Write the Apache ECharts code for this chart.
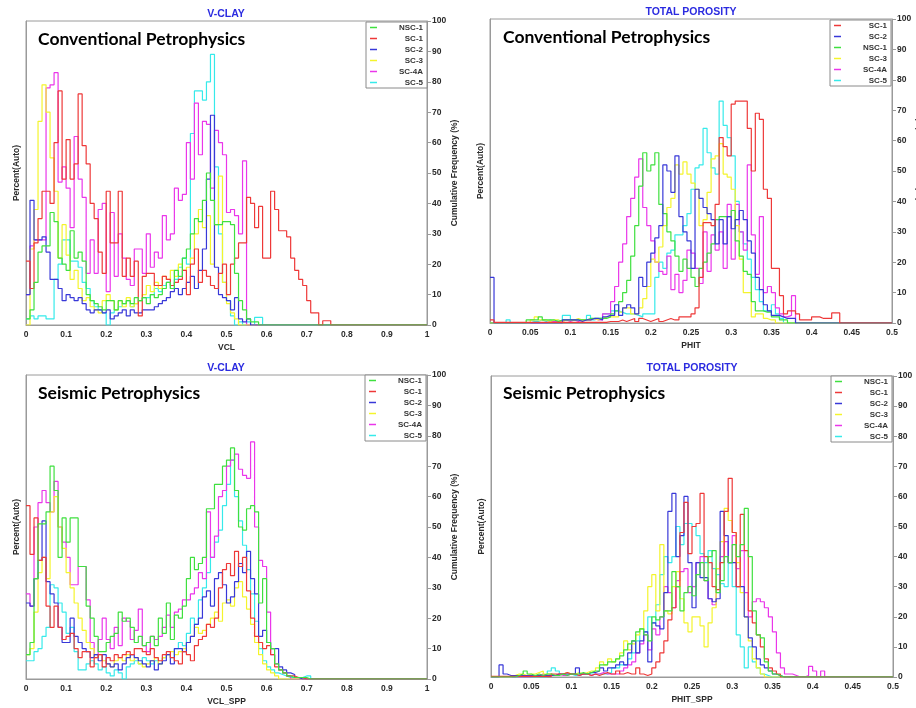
<!DOCTYPE html>
<html><head><meta charset="utf-8">
<script src="https://cdn.jsdelivr.net/npm/echarts@6.0.0/dist/echarts.min.js"></script>
<style>html,body{margin:0;padding:0;background:#fff}#c{width:916px;height:708px}</style>
</head><body><div id="c"></div>
<script>
// ---------- DATA (histogram bin heights, read on the 0-100 right-axis scale) ----------
const WELLS = ['NSC-1','SC-1','SC-2','SC-3','SC-4A','SC-5'];
const LEGEND_ORDER_A = ['NSC-1','SC-1','SC-2','SC-3','SC-4A','SC-5'];
const LEGEND_ORDER_B = ['SC-1','SC-2','NSC-1','SC-3','SC-4A','SC-5'];
const VCL_BIN = 0.01;   // VCL histograms: 100 bins over 0..1
const PHIT_BIN = 0.005; // PHIT histograms: 100 bins over 0..0.5

// Panel 1: V-CLAY, Conventional Petrophysics (VCL)
const convVclNSC1 = [
2,5,14,24,26,26,37,34,22,20,
18,31,22,24,21,10,8,7,6,5,
8,8,5,8,7,8,7,9,8,9,
7,10,9,10,12,14,12,18,16,22,
25,30,35,34,41,50,41,33,33,34,
34,33,17,8,5,2,1,1,0,0,
0,0,0,0,0,0,0,0,0,0,
0,0,0,0,0,0,0,0,0,0,
0,0,0,0,0,0,0,0,0,0,
0,0,0,0,0,0,0,0,0,0];
const convVclSC1 = [
21,12,27,35,44,44,40,60,77,48,
61,48,53,76,59,53,40,35,24,17,
44,27,27,44,16,22,16,21,3,16,
17,17,13,13,16,15,13,14,15,18,
10,20,25,14,18,16,13,12,17,20,
10,20,22,27,27,42,40,32,39,22,
22,44,38,31,31,29,22,18,15,13,
8,4,4,0,1.4,1.4,0,0,0,0,
0,0,0,0,0,0,0,0,0,0,
0,0,0,0,0,0,0,0,0,0];
const convVclSC2 = [
10,41,28,28,29,24,15,15,12,8,
10,9,8,9,7,5,4,5,5,4,
5,2,3,4,5,3,5,4,4,5,
5,5,6,7,8,9,11,12,10,12,
14,16,12,18,25,48,69,19,10,9,
8,5,9,2,1,2,0,0,0,0,
0,0,0,0,0,0,0,0,0,0,
0,0,0,0,0,0,0,0,0,0,
0,0,0,0,0,0,0,0,0,0,
0,0,0,0,0,0,0,0,0,0];
const convVclSC3 = [
0,25,38,67,79,70,55,44,22,33,
23,15,18,12,8,9,6,5,4,8,
10,8,5,8,6,9,6,7,8,10,
13,11,14,12,16,15,18,16,20,18,
19,22,30,38,32,36,20,33,49,14,
7,4,2,0,0,0,0,0,0,0,
0,0,0,0,0,0,0,0,0,0,
0,0,0,0,0,0,0,0,0,0,
0,0,0,0,0,0,0,0,0,0,
0,0,0,0,0,0,0,0,0,0];
const convVclSC4A = [
10,26,28,28,28,78,79,83,47,52,
45,32,62,48,42,17,28,17,38,40,
11,37,16,30,22,15,13,25,25,17,
30,19,24,22,36,28,30,45,41,43,
60,48,73,56,67,66,45,64,60,56,
37,38,36,30,54,0,0,0,0,0,
0,0,0,0,0,0,0,0,0,0,
0,0,0,0,0,0,0,0,0,0,
0,0,0,0,0,0,0,0,0,0,
0,0,0,0,0,0,0,0,0,0];
const convVclSC5 = [
2,3,2,3,3,2,2,15,20,28,
28,21,21,19,14,12,8,6,5,4,
0,4,5,6,7,8,6,7,8,9,
9,10,12,11,13,14,12,15,19,22,
20,63,77,77,74,80,89,52,30,14,
8,3,0,1,0,1,0,2.5,2.5,0,
0,0,0,0,0,0,0,0,0,0,
0,0,0,0,0,0,0,0,0,0,
0,0,0,0,0,0,0,0,0,0,
0,0,0,0,0,0,0,0,0,0];

// Panel 2: TOTAL POROSITY, Conventional Petrophysics (PHIT)
const convPhitSC1 = [
1,0.2,0.2,0.2,0.2,0.2,0.2,0.2,0.2,0.2,
0.2,0.2,0.2,0.2,0.2,0.2,0.2,0.2,0.2,0.2,
0.2,0.2,0.2,0.2,0.2,0.2,0.2,0.2,0.2,0.5,
0.5,0.5,1,0.5,1,1.5,0.5,1.5,1,0.5,
1,1.5,0.5,1,1.5,1,1,2,2,2,
3,5,15,33,33,32,39,61,58,55,
72,73,73,73,64,50,69,67,44,41,
18,18,9,3,4,4,3,1,1,1,
2,2,1.5,1.5,1.5,3.3,3.3,0,0,0,
0,0,0,0,0,0,0,0,0,0];
const convPhitSC2 = [
15,0,0,0,0,0,0,0,0,0,
0,0,0,0,0,0,0,0,1,1,
1,1,0.5,1,1,1.5,1.5,1,2,2.5,
2.5,6,2.5,5,6,5,3,15,12,20,
23,28,32,52,50,43,55,35,30,27,
18,44,41,38,36,34,26,34,26,35,
31,34,37,34,27,23,15,11,6,4,
2.5,2.5,2,1.5,1.5,1.5,0,0,0,0,
0,0,0,0,0,0,0,0,0,0,
0,0,0,0,0,0,0,0,0,0];
const convPhitNSC1 = [
0,0,0,0,0,0,0,0,0,1,
1,1,2,1,1,1,0.5,1,1,1,
1,1,1,1,1.5,1.5,1.5,1.5,1.5,2,
3,4,7,10,14,22,32,45,56,50,
52,56,39,36,30,27,22,17,21,18,
15,12,18,20,23,26,34,35,35,35,
37,27,22,17,16,7,4,4,3.6,3.6,
2,2,1,1,0,0,0,0,0,0,
0,0,0,0,0,0,0,0,0,0,
0,0,0,0,0,0,0,0,0,0];
const convPhitSC3 = [
0,0,0,0,0,0,0,0,0,0,
1,2,1,1,0.5,1,1,0.5,1,1,
1,1.5,1,1,1,1.5,1,1.5,2,2,
2,2,3.6,5,5,3,3,5,8,12,
21,20,25,32,38,41,52,49,53,49,
46,44,32,34,43,54,55,59,49,48,
44,32,21,10,10,2,3,3,1.5,1,
1,0,0,0,0,0,0,0,0,0,
0,0,0,0,0,0,0,0,0,0,
0,0,0,0,0,0,0,0,0,0];
const convPhitSC4A = [
0,0,0,0,0,0,0,0,0,0,
0,0,0,0,0.5,0.5,0.5,0.5,1,0.5,
1,0.5,1,1,1,1.5,1,1,3,3,
7,12,20,26,35,41,48,54,38,32,
27,20,17,16,22,11,16,10,14,24,
23,18,13,30,17,29,24,30,18,39,
21,39,30,24,52,29,16,35,10,12,
10,5,3,2,2.5,9,0,0,0,0,
0,0,0,0,0,0,0,0,0,0,
0,0,0,0,0,0,0,0,0,0];
const convPhitSC5 = [
0,0,0,0,1,0,0,0,0,0,
0.5,0.5,1,0.5,1,0.5,1,0.5,2.5,2.5,
1,1,1,1,2.5,1,1.5,1.5,3,3,
4,4,3.5,3,3,3,2.5,2,3,3,
3,15,20,18,23,24,29,29,32,36,
44,51,52,64,56,51,49,73,65,61,
55,40,30,26,21,15,11,7,4,4,
6,3,1.5,0,0,0,0,0,0,0,
0,0,0,0,0,0,0,0,0,0,
0,0,0,0,0,0,0,0,0,0];

// Panel 3: V-CLAY, Seismic Petrophysics (VCL_SPP)
const sppVclNSC1 = [
8,12,33,51,51,55,70,62,40,53,
45,53,53,37,37,24,20,14,9,9,
12,14,15,22,19,20,17,12,14,11,
12,14,11,20,15,25,13,21,20,24,
33,40,36,38,40,56,56,64,64,70,
72,76,62,50,49,56,57,55,25,33,
12,10,5,3,2,1,0.5,0.5,0.5,0.5,
0,0,0,0,0,0,0,0,0,0,
0,0,0,0,0,0,0,0,0,0,
0,0,0,0,0,0,0,0,0,0];
const sppVclSC1 = [
57,41,53,39,40,24,17,24,17,13,
14,15,10,7,9,9,4,7,8,4,
7,6,8,7,8,9,8,10,10,9,
8,10,7,6,8,9,7,6,5,9,
8,6,11,13,14,18,17,20,30,36,
38,34,42,37,40,29,20,14,12,10,
11,8,4,3,2,1,1,0.5,0.5,0,
0,0,0,0,0,0,0,0,0,0,
0,0,0,0,0,0,0,0,0,0,
0,0,0,0,0,0,0,0,0,0];
const sppVclSC2 = [
25,24,33,39,52,32,28,25,17,12,
12,20,14,12,10,9,7,8,6,8,
5,4,5,3,5,7,8,7,6,5,
4,6,3,5,6,8,5,10,10,9,
12,14,18,20,27,29,24,33,35,31,
25,27,32,38,35,42,33,28,14,16,
12,10,10,4,3,2,1.5,0.5,0,0,
0,0,0,0,0,0,0,0,0,0,
0,0,0,0,0,0,0,0,0,0,
0,0,0,0,0,0,0,0,0,0];
const sppVclSC3 = [
8,10,22,35,40,33,55,60,50,43,
35,30,25,20,16,12,10,7,8,6,
5,4,6,7,6,8,6,7,5,4,
5,6,7,5,7,8,9,8,9,10,
12,14,17,15,16,18,20,22,19,25,
26,24,30,32,27,23,18,12,8,5,
3,2,1,0,0,0,0,0,0,0,
0,0,0,0,0,0,0,0,0,0,
0,0,0,0,0,0,0,0,0,0,
0,0,0,0,0,0,0,0,0,0];
const sppVclSC4A = [
28,24,50,58,62,58,55,65,50,45,
40,31,31,37,37,26,12,8,13,20,
13,10,17,11,20,19,13,16,23,11,
9,14,13,14,17,21,17,22,23,26,
26,28,30,35,33,55,40,47,60,62,
70,72,74,69,67,66,78,50,39,37,
22,8,5,3,2,1,0,0,0,0,
0,0,0,0,0,0,0,0,0,0,
0,0,0,0,0,0,0,0,0,0,
0,0,0,0,0,0,0,0,0,0];
const sppVclSC5 = [
6,6,9,10,14,17,31,30,25,22,
15,17,9,3,3,5,6,5,3,4,
2,1,3,2,0,4,5,6,5,7,
6,5,6,5,7,8,7,10,12,11,
15,20,18,26,30,35,40,45,49,57,
64,72,60,52,44,36,28,19,10,6,
4,3,2,1.5,1,0.5,0.5,0.5,0.5,1,
1,0,0,0,0,0,0,0,0,0,
0,0,0,0,0,0,0,0,0,0,
0,0,0,0,0,0,0,0,0,0];

// Panel 4: TOTAL POROSITY, Seismic Petrophysics (PHIT_SPP)
const sppPhitNSC1 = [
0,0,0,0,0,0,0.5,1,2,1,
0.5,1,0.5,1,1,0.5,0.5,1,0.5,1,
1,1,1.5,1,1.5,2,2,4,4,5,
5,6,7,9,11,12,15,16,14,12,
20,19,20,22,22,35,30,22,28,30,
27,34,38,32,40,42,28,32,40,38,
44,40,44,56,40,22,14,13,5,2,
1,0.5,0,0,0,0,0,0,0,0,
0,0,0,0,0,0,0,0,0,0,
0,0,0,0,0,0,0,0,0,0];
const sppPhitSC1 = [
0.2,0.2,0.2,0.2,0.2,0.2,0.2,0.2,0.2,0.2,
0.2,0.2,0.2,0.2,0.2,1,1,1,1.5,1,
1,0.5,1,1,0.5,1,0.5,1,1.5,1,
1,2,1,1.5,1,1,3,1,0.5,1,
3,5,8,12,19,23,30,48,58,41,
50,51,61,40,38,30,29,38,55,66,
48,30,54,42,22,18,14,10,6,3,
2,1,0,0,0,0,0,0,0,0,
0,0,0,0,0,0,0,0,0,0,
0,0,0,0,0,0,0,0,0,0];
const sppPhitSC2 = [
0,0,4,1,0.5,0.5,0.5,0.5,0.5,0.5,
0.5,0.5,0.5,0.5,0.5,0.5,1,1,1,1,
1,3,1,1,1.5,1.5,2,3,2,3,
3,4,5,4,8,12,8,12,15,5,
18,17,16,28,55,61,40,47,60,38,
23,38,33,33,26,25,26,55,47,38,
38,30,30,20,13,10,6,4,3,2,
1,0.5,0,0,0,0,0,0,0,0,
0,0,0,0,0,0,0,0,0,0,
0,0,0,0,0,0,0,0,0,0];
const sppPhitSC3 = [
0,0,0,0,0,0.5,1,1,0.5,1,
1,1.5,2,1,1,0.5,1,1,1.5,1,
1,1.5,1,1.5,2,2,3,5,4,6,
5,6,8,12,9,11,14,16,22,30,
34,22,44,22,21,30,35,26,18,15,
20,20,17,10,18,23,36,45,56,52,
48,38,28,20,12,6,3,1,0,0,
0,0,0,0,0,0,0,0,0,0,
0,0,0,0,0,0,0,0,0,0,
0,0,0,0,0,0,0,0,0,0];
const sppPhitSC4A = [
0,0,0,0,0,0,0,0,0,0,
0.5,0.5,1,0.5,1,0.5,1,0.5,0.5,1,
1,0.5,1,1,0.5,1,1,1.5,1,1,
1,1,2,3,4,5,8,11,14,9,
16,14,20,30,28,23,32,35,36,28,
30,38,40,32,26,24,36,40,45,38,
47,36,42,28,20,25,26,25,23,20,
15,8,3,1,1,0.5,0,0,0.5,3.5,
2,0,2,0,0,0,0,0,0,0,
0,0,0,0,0,0,0,0,0,0];
const sppPhitSC5 = [
0,0,0,0,0,0,0,0,0,0,
0,0,0,0,2,3,2,1,1,1,
0.5,0.5,1,1,1,1,1,1,1,1.5,
3,3,4,4,6,8,12,16,15,20,
18,24,34,40,38,40,50,44,51,51,
50,47,41,38,42,36,34,31,30,38,
30,14,10,3,10,5,3,1,0.5,0,
0,0,0,0,0,0,0,0,0,0,
0,0,0,0,0,0,0,0,0,0,
0,0,0,0,0,0,0,0,0,0];

// ---------- STYLE / LAYOUT ----------
const COLORS = {'NSC-1':'#3fe03f','SC-1':'#ee3838','SC-2':'#3838d8','SC-3':'#f4f42c','SC-4A':'#ea36ea','SC-5':'#36eaea'};
const FONT = '"Liberation Sans", Arial, sans-serif';
const AXIS_COLOR = '#9a9a9a';
const LABEL_COLOR = '#2a2a2a';
const TITLE_COLOR = '#2b2be0';

const panels = [
  {grid:{left:26,top:21,width:401,height:304}, xMax:1, xInterval:0.1, bin:VCL_BIN, xName:'VCL',
   title:'V-CLAY', titleXY:[226,14], caption:'Conventional Petrophysics', captionXY:[38,39],
   legend:{left:366,top:22}, order:LEGEND_ORDER_A,
   data:{'NSC-1':convVclNSC1,'SC-1':convVclSC1,'SC-2':convVclSC2,'SC-3':convVclSC3,'SC-4A':convVclSC4A,'SC-5':convVclSC5}},
  {grid:{left:490,top:19,width:402,height:304}, xMax:0.5, xInterval:0.05, bin:PHIT_BIN, xName:'PHIT',
   title:'TOTAL POROSITY', titleXY:[691,12], caption:'Conventional Petrophysics', captionXY:[503,37],
   legend:{left:830,top:20}, order:LEGEND_ORDER_B,
   data:{'NSC-1':convPhitNSC1,'SC-1':convPhitSC1,'SC-2':convPhitSC2,'SC-3':convPhitSC3,'SC-4A':convPhitSC4A,'SC-5':convPhitSC5}},
  {grid:{left:26,top:375,width:401,height:304}, xMax:1, xInterval:0.1, bin:VCL_BIN, xName:'VCL_SPP',
   title:'V-CLAY', titleXY:[226,368], caption:'Seismic Petrophysics', captionXY:[38,393],
   legend:{left:365,top:375}, order:LEGEND_ORDER_A,
   data:{'NSC-1':sppVclNSC1,'SC-1':sppVclSC1,'SC-2':sppVclSC2,'SC-3':sppVclSC3,'SC-4A':sppVclSC4A,'SC-5':sppVclSC5}},
  {grid:{left:491,top:376,width:402,height:301}, xMax:0.5, xInterval:0.05, bin:PHIT_BIN, xName:'PHIT_SPP',
   title:'TOTAL POROSITY', titleXY:[692,368], caption:'Seismic Petrophysics', captionXY:[503,393],
   legend:{left:831,top:376}, order:LEGEND_ORDER_A,
   data:{'NSC-1':sppPhitNSC1,'SC-1':sppPhitSC1,'SC-2':sppPhitSC2,'SC-3':sppPhitSC3,'SC-4A':sppPhitSC4A,'SC-5':sppPhitSC5}}
];

// histogram outline: each value is drawn over its bin [i*w, (i+1)*w]
function stepData(vals, w) {
  const d = vals.map((v, i) => [+(i * w).toFixed(4), v]);
  d.push([+(vals.length * w).toFixed(4), vals[vals.length - 1]]);
  return d;
}

const nameStyle = {fontFamily:FONT, fontSize:8.5, fontWeight:'bold', color:LABEL_COLOR};
const grids = [], xAxes = [], yAxes = [], series = [], legends = [], graphics = [];

panels.forEach((p, k) => {
  grids.push(Object.assign({show:true, borderColor:AXIS_COLOR, borderWidth:1, backgroundColor:'transparent',
    containLabel:false, outerBoundsMode:'none'}, p.grid));
  xAxes.push({type:'value', gridIndex:k, min:0, max:p.xMax, interval:p.xInterval,
    name:p.xName, nameLocation:'middle', nameGap:18, nameTextStyle:nameStyle,
    axisLine:{show:true, onZero:false, lineStyle:{color:AXIS_COLOR}}, axisTick:{show:false}, splitLine:{show:false},
    axisLabel:{margin:5, fontFamily:FONT, fontSize:8.5, fontWeight:'bold', color:LABEL_COLOR,
      formatter: v => String(+v.toFixed(2))}});
  yAxes.push({type:'value', gridIndex:k, position:'left', min:0, max:100,
    name:'Percent(Auto)', nameLocation:'middle', nameGap:5, nameRotate:90, nameTextStyle:nameStyle,
    axisLine:{show:true, onZero:false, lineStyle:{color:AXIS_COLOR}}, axisTick:{show:false},
    axisLabel:{show:false}, splitLine:{show:false}});
  yAxes.push({type:'value', gridIndex:k, position:'right', min:0, max:100, interval:10,
    name:'Cumulative Frequency (%)', nameLocation:'middle', nameGap:22, nameRotate:90, nameTextStyle:nameStyle,
    axisLine:{show:true, onZero:false, lineStyle:{color:AXIS_COLOR}},
    axisTick:{show:true, length:4, lineStyle:{color:AXIS_COLOR}},
    axisLabel:{margin:5, fontFamily:FONT, fontSize:8.5, fontWeight:'bold', color:LABEL_COLOR},
    splitLine:{show:false}});
  // draw in reverse legend order so the first legend entry ends on top
  p.order.slice().reverse().forEach(w => {
    series.push({type:'line', name:w, xAxisIndex:k, yAxisIndex:2*k+1, step:'end',
      symbol:'none', showSymbol:false, silent:true, clip:true,
      lineStyle:{width:1.2, color:COLORS[w]}, itemStyle:{color:COLORS[w]},
      data: stepData(p.data[w], p.bin)});
  });
  legends.push({orient:'vertical', left:p.legend.left, top:p.legend.top, data:p.order,
    icon:'rect', itemWidth:7, itemHeight:1.5, itemGap:0, padding:[0,4,0,4],
    borderColor:'#8a8a8a', borderWidth:1, backgroundColor:'#fff', selectedMode:false,
    formatter: n => '{n|' + n + '}',
    textStyle:{rich:{n:{width:41, align:'right', fontFamily:FONT, fontSize:8, fontWeight:'bold', color:'#333', lineHeight:11, height:11}}}});
  graphics.push({type:'text', x:p.titleXY[0], y:p.titleXY[1], silent:true,
    style:{text:p.title, fill:TITLE_COLOR, font:'bold 10.5px ' + FONT, textAlign:'center', textVerticalAlign:'middle'}});
  graphics.push({type:'text', x:p.captionXY[0], y:p.captionXY[1], silent:true,
    style:{text:p.caption, fill:'#000', font:'bold 17.5px Lato, "Open Sans", sans-serif', textAlign:'left', textVerticalAlign:'middle'}});
});

const chart = echarts.init(document.getElementById('c'), null, {renderer:'canvas'});
chart.setOption({
  animation:false,
  backgroundColor:'#fff',
  grid:grids, xAxis:xAxes, yAxis:yAxes, legend:legends, series:series, graphic:graphics
});
</script></body></html>
